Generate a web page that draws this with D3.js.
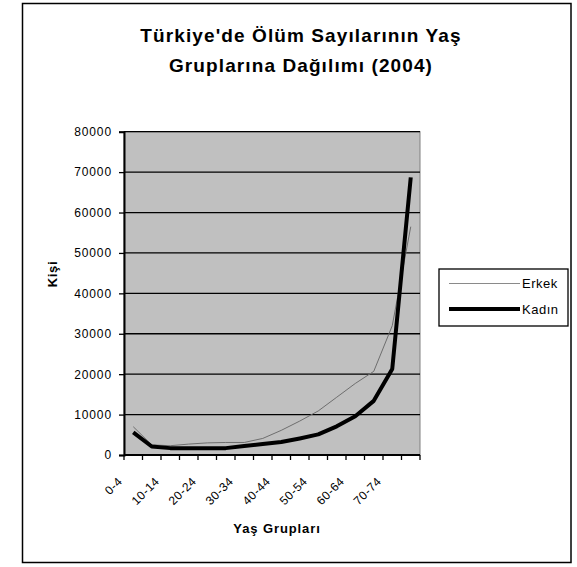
<!DOCTYPE html>
<html>
<head>
<meta charset="utf-8">
<script src="https://cdn.jsdelivr.net/npm/d3@7"></script>
<style>
  html, body { margin: 0; padding: 0; background: #fff; }
  svg { display: block; font-family: "Liberation Sans", Arial, sans-serif; }
</style>
</head>
<body>
<svg id="chart" width="577" height="567"></svg>
<script>
// Age groups (5-year bands) and deaths by sex, Türkiye 2004
const ageGroups = ["0-4", "5-9", "10-14", "15-19", "20-24", "25-29", "30-34", "35-39",
                   "40-44", "45-49", "50-54", "55-59", "60-64", "65-69", "70-74", "75+"];
const erkek = [7000, 2500, 2300, 2700, 3000, 3100, 3100, 4100,
               6100, 8400, 10900, 14300, 17700, 20700, 32000, 56500];
const kadin = [5600, 2100, 1700, 1650, 1650, 1700, 2200, 2700,
               3200, 4100, 5100, 7100, 9600, 13400, 21300, 68700];
const yTicks = [0, 10000, 20000, 30000, 40000, 50000, 60000, 70000, 80000];
const shownLabels = ["0-4", "10-14", "20-24", "30-34", "40-44", "50-54", "60-64", "70-74"];

const titleLines = ["Türkiye'de Ölüm Sayılarının Yaş", "Gruplarına Dağılımı (2004)"];

const svg = d3.select("#chart");
const plot = { left: 124, top: 131.7, right: 420, bottom: 455 };

// outer chart frame
svg.append("rect")
  .attr("x", 22.5).attr("y", 3.5).attr("width", 548.5).attr("height", 559)
  .attr("fill", "#fff").attr("stroke", "#000").attr("stroke-width", 1.5);

const x = d3.scaleBand().domain(ageGroups).range([plot.left, plot.right]).padding(0);
const y = d3.scaleLinear().domain([0, 80000]).range([plot.bottom, plot.top]);

// plot area
svg.append("rect")
  .attr("x", plot.left).attr("y", plot.top)
  .attr("width", plot.right - plot.left).attr("height", plot.bottom - plot.top)
  .attr("fill", "#c0c0c0").attr("stroke", "#808080").attr("stroke-width", 1);

// horizontal gridlines
svg.append("g").selectAll("line").data(yTicks.filter(d => d > 0)).join("line")
  .attr("x1", plot.left).attr("x2", plot.right)
  .attr("y1", d => y(d)).attr("y2", d => y(d))
  .attr("stroke", "#000").attr("stroke-width", 1.3);

// y axis
const yAxis = d3.axisLeft(y).tickValues(yTicks).tickSize(5).tickPadding(7).tickFormat(d3.format("d"));
const gy = svg.append("g").attr("transform", `translate(${plot.left},0)`).call(yAxis);
gy.select(".domain").attr("stroke", "#000").attr("stroke-width", 2);
gy.selectAll(".tick line").attr("stroke", "#000").attr("stroke-width", 1.3);
gy.selectAll(".tick text").attr("font-size", 12).attr("fill", "#000")
  .attr("letter-spacing", 0.9)
  .attr("font-family", "Liberation Sans, Arial, sans-serif");

// x axis: ticks on category boundaries
const boundaries = ageGroups.map(d => x(d)).concat([plot.right]);
const gx = svg.append("g");
gx.append("line").attr("x1", plot.left).attr("x2", plot.right)
  .attr("y1", plot.bottom).attr("y2", plot.bottom)
  .attr("stroke", "#000").attr("stroke-width", 2);
gx.selectAll("line.tk").data(boundaries).join("line").attr("class", "tk")
  .attr("x1", d => d).attr("x2", d => d)
  .attr("y1", plot.bottom).attr("y2", plot.bottom + 5)
  .attr("stroke", "#000").attr("stroke-width", 1.3);
gx.selectAll("text").data(shownLabels).join("text")
  .attr("transform", d => `translate(${x(d) + x.bandwidth() / 2 - 10},${plot.bottom + 27}) rotate(-45)`)
  .attr("text-anchor", "end")
  .attr("font-size", 12).attr("letter-spacing", 0.6).attr("fill", "#000")
  .text(d => d);

// series lines
const line = d3.line()
  .x((d, i) => x(ageGroups[i]) + x.bandwidth() / 2)
  .y(d => y(d));

svg.append("path").datum(erkek)
  .attr("d", line).attr("fill", "none")
  .attr("stroke", "#6e6e6e").attr("stroke-width", 1);
svg.append("path").datum(kadin)
  .attr("d", line).attr("fill", "none")
  .attr("stroke", "#000").attr("stroke-width", 4).attr("stroke-linejoin", "round");

// title
svg.append("text").attr("text-anchor", "middle")
  .attr("font-size", 19).attr("font-weight", "bold").attr("letter-spacing", 1.1)
  .selectAll("tspan").data(titleLines).join("tspan")
  .attr("x", 301).attr("y", (d, i) => 41.7 + i * 30).text(d => d);

// axis titles
svg.append("text").attr("x", 277).attr("y", 533)
  .attr("text-anchor", "middle").attr("font-size", 13).attr("font-weight", "bold")
  .attr("letter-spacing", 0.9)
  .text("Yaş Grupları");
svg.append("text").attr("transform", "translate(57,274) rotate(-90)")
  .attr("text-anchor", "middle").attr("font-size", 13).attr("font-weight", "bold")
  .attr("letter-spacing", 0.6)
  .text("Kişi");

// legend
const lg = svg.append("g");
lg.append("rect").attr("x", 439).attr("y", 269).attr("width", 129).attr("height", 57)
  .attr("fill", "#fff").attr("stroke", "#000").attr("stroke-width", 1.3);
const legendItems = [
  { name: "Erkek", color: "#8a8a8a", width: 1, yy: 283.5 },
  { name: "Kadın", color: "#000", width: 4, yy: 309 }
];
legendItems.forEach(it => {
  lg.append("line").attr("x1", 449).attr("x2", 520).attr("y1", it.yy).attr("y2", it.yy)
    .attr("stroke", it.color).attr("stroke-width", it.width);
  lg.append("text").attr("x", 522).attr("y", it.yy + 4.5).attr("font-size", 13)
    .attr("letter-spacing", 0.5).text(it.name);
});
</script>
</body>
</html>
